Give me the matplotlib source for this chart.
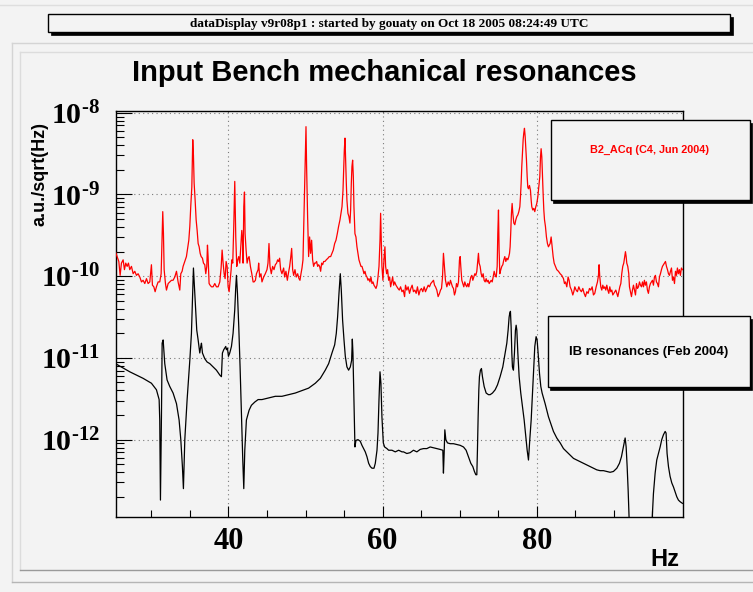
import numpy as np
import matplotlib
matplotlib.use("Agg")
import matplotlib.pyplot as plt
from matplotlib.patches import Rectangle
from matplotlib.lines import Line2D
from matplotlib.ticker import FixedLocator, LogLocator, FuncFormatter, NullFormatter

# ---------------------------------------------------------------------------
# Spectra: frequency [Hz] and log10 of the amplitude spectral density
# ---------------------------------------------------------------------------
red_hz = [
    25.34, 25.56, 25.78, 25.95, 26.12, 26.34, 26.51, 26.68, 26.86, 27.03, 27.20, 27.42, 27.64, 27.85,
    28.07, 28.28, 28.50, 28.72, 28.93, 29.15, 29.37, 29.58, 29.80, 30.01, 30.14, 30.32, 30.49, 30.66,
    30.88, 31.09, 31.27, 31.40, 31.48, 31.57, 31.66, 31.83, 31.96, 32.18, 32.39, 32.61, 32.82, 33.04,
    33.26, 33.47, 33.69, 33.82, 33.99, 34.12, 34.34, 34.55, 34.73, 34.86, 34.99, 35.12, 35.25, 35.37,
    35.46, 35.55, 35.68, 35.81, 35.94, 36.07, 36.20, 36.33, 36.46, 36.63, 36.76, 36.93, 37.06, 37.19,
    37.28, 37.36, 37.49, 37.62, 37.80, 38.01, 38.23, 38.44, 38.66, 38.88, 39.05, 39.18, 39.31, 39.44,
    39.57, 39.70, 39.83, 39.96, 40.09, 40.22, 40.35, 40.43, 40.56, 40.69, 40.82, 40.95, 41.08, 41.21,
    41.34, 41.47, 41.60, 41.73, 41.82, 41.90, 41.99, 42.08, 42.16, 42.29, 42.42, 42.55, 42.68, 42.85,
    43.03, 43.20, 43.33, 43.50, 43.63, 43.85,
    43.92, 44.05, 44.22, 44.35, 44.57, 44.78, 45.00, 45.13, 45.26, 45.39, 45.56, 45.73, 45.91, 46.08,
    46.25, 46.38, 46.51, 46.64, 46.77, 46.94, 47.16, 47.29, 47.46, 47.64, 47.77, 47.94, 48.07, 48.20,
    48.33, 48.46, 48.63, 48.80, 48.98, 49.15, 49.28, 49.41, 49.54, 49.67, 49.80, 49.97, 50.06, 50.14,
    50.27, 50.40, 50.53, 50.66, 50.79, 50.92, 51.05, 51.18, 51.31, 51.44, 51.57, 51.70, 51.83, 51.96,
    52.09, 52.22, 52.35, 52.52, 52.69, 52.91, 53.08, 53.26, 53.43, 53.60, 53.78, 53.95, 54.12, 54.29,
    54.47, 54.60, 54.73, 54.86, 54.94, 55.03, 55.12, 55.20, 55.29, 55.37, 55.50, 55.63, 55.76, 55.85,
    55.94, 56.02, 56.11, 56.20, 56.28, 56.41, 56.54, 56.67, 56.80, 56.93, 57.06, 57.19, 57.32, 57.45,
    57.58, 57.71, 57.84, 57.97, 58.10, 58.23, 58.36, 58.49, 58.62, 58.75, 58.88, 59.01, 59.14, 59.27,
    59.40, 59.53, 59.66, 59.74, 59.83, 59.91, 60.04, 60.17, 60.30, 60.39, 60.52, 60.65, 60.78, 60.91,
    61.04, 61.17, 61.30, 61.43, 61.56, 61.73, 61.86, 61.99, 62.16, 62.33, 62.51, 62.68, 62.85,
    62.97, 63.14, 63.31, 63.49, 63.66, 63.83, 64.00, 64.18, 64.35, 64.52, 64.70, 64.87, 65.04, 65.21,
    65.39, 65.56, 65.73, 65.91, 66.08, 66.25, 66.42, 66.60, 66.73, 66.86, 67.03, 67.20, 67.38, 67.51,
    67.64, 67.77, 67.89, 68.02, 68.15, 68.33, 68.50, 68.67, 68.80, 68.93, 69.06, 69.19, 69.32, 69.45,
    69.58, 69.71, 69.84, 69.97, 70.06, 70.14, 70.27, 70.40, 70.53, 70.66, 70.79, 70.92, 71.05, 71.18,
    71.31, 71.44, 71.57, 71.70, 71.83, 71.96, 72.09, 72.22, 72.35, 72.43, 72.52, 72.65, 72.78, 72.91,
    73.04, 73.17, 73.30, 73.43, 73.56, 73.69, 73.82, 73.95, 74.08, 74.21, 74.34, 74.47, 74.60, 74.73,
    74.86, 74.94, 75.03, 75.11, 75.20, 75.33, 75.46, 75.59, 75.72, 75.85, 75.98, 76.11, 76.24, 76.37,
    76.46, 76.54, 76.63, 76.71, 76.80, 76.89, 77.02, 77.15, 77.28, 77.41, 77.54, 77.67, 77.80, 77.88,
    77.97, 78.05, 78.14, 78.23, 78.31, 78.40, 78.49, 78.57, 78.66, 78.75, 78.83, 78.92, 79.05, 79.18,
    79.27, 79.35, 79.48, 79.61, 79.74, 79.87, 80.00, 80.13, 80.26, 80.39, 80.48, 80.56, 80.65, 80.74,
    80.82, 80.91, 81.00, 81.12, 81.25, 81.38, 81.51,
    81.73, 81.86, 81.99, 82.12, 82.25, 82.42, 82.59, 82.81, 83.03, 83.24, 83.46, 83.59, 83.72, 83.89,
    84.06, 84.19, 84.32, 84.50, 84.67, 84.80, 84.93, 85.10, 85.27, 85.45, 85.62, 85.79, 85.97, 86.14,
    86.31, 86.49, 86.66, 86.83, 87.00, 87.18, 87.35, 87.52, 87.70, 87.87, 88.00, 88.08, 88.17, 88.30,
    88.43, 88.56, 88.69, 88.82, 88.95, 89.08, 89.21, 89.34, 89.47, 89.60, 89.73, 89.86, 89.99, 90.12,
    90.25, 90.38, 90.51, 90.64, 90.77, 90.90, 91.02, 91.15, 91.28, 91.41, 91.50, 91.59, 91.67, 91.80,
    91.93, 92.02, 92.15, 92.28, 92.41, 92.54, 92.67, 92.80, 92.93, 93.06, 93.19, 93.32, 93.45, 93.58,
    93.71, 93.84, 93.96, 94.09, 94.22, 94.35, 94.48, 94.61, 94.74, 94.87, 95.00, 95.13, 95.26, 95.39,
    95.52, 95.65, 95.78, 95.91, 96.04, 96.17, 96.30, 96.43, 96.56, 96.69, 96.82, 96.95, 97.08, 97.21,
    97.34, 97.47, 97.60, 97.73, 97.86, 97.99, 98.12, 98.24, 98.37, 98.50, 98.63, 98.76, 98.89,
]
red_log10 = [
    -9.70, -9.76, -9.82, -9.99, -9.84, -9.80, -9.92, -9.84, -9.88, -9.84, -9.92, -9.88, -9.97, -9.94,
    -9.99, -9.97, -10.01, -10.07, -10.05, -10.09, -10.03, -10.09, -10.07, -9.86, -10.11, -10.13, -10.19, -10.13,
    -10.07, -10.07, -9.97, -9.48, -9.21, -9.48, -9.92, -10.09, -10.17, -10.09, -10.07, -10.05, -10.05, -10.01,
    -9.94, -10.07, -10.17, -9.97, -9.94, -9.88, -9.82, -9.76, -9.64, -9.56, -9.39, -9.13, -8.91, -8.33,
    -8.52, -8.86, -9.07, -9.31, -9.44, -9.60, -9.64, -9.72, -9.76, -9.78, -9.84, -9.86, -9.97, -9.88,
    -9.62, -9.76, -10.09, -10.11, -10.13, -10.13, -10.09, -10.13, -10.13, -10.07, -9.90, -9.68, -9.84, -9.97,
    -10.03, -9.82, -9.88, -10.13, -10.19, -10.05, -9.92, -9.80, -9.84, -9.39, -8.84, -9.52, -9.88, -9.80,
    -9.76, -9.84, -9.64, -9.44, -9.56, -9.84, -9.15, -8.97, -9.48, -9.68, -9.84, -9.78, -9.76, -9.88,
    -9.97, -10.07, -10.07, -10.05, -9.97, -9.92,
    -9.84, -10.01, -9.97, -10.07, -10.01, -9.97, -9.92, -9.84, -9.60, -9.88, -9.97, -9.88, -9.92, -9.86,
    -9.84, -9.80, -9.82, -9.78, -9.92, -9.97, -9.90, -10.01, -9.94, -10.05, -9.97, -9.88, -9.78, -9.66,
    -9.92, -9.99, -9.92, -10.01, -9.97, -10.03, -10.05, -9.97, -9.90, -9.80, -9.27, -8.62, -8.17, -8.66,
    -9.27, -9.76, -9.52, -9.72, -9.56, -9.80, -9.88, -9.84, -9.84, -9.82, -9.88, -9.86, -9.88, -9.94,
    -9.84, -9.86, -9.82, -9.82, -9.80, -9.78, -9.76, -9.76, -9.72, -9.68, -9.60, -9.56, -9.48, -9.39,
    -9.31, -9.23, -9.15, -8.95, -8.70, -8.46, -8.31, -8.58, -8.86, -9.07, -9.23, -9.27, -9.35, -9.19,
    -8.86, -8.66, -8.58, -8.78, -9.15, -9.48, -9.52, -9.64, -9.72, -9.80, -9.84, -9.88, -9.88, -9.92,
    -9.97, -9.94, -9.99, -10.01, -10.05, -10.03, -10.07, -10.01, -10.09, -10.07, -10.11, -10.13, -10.15, -10.11,
    -10.01, -9.88, -9.56, -9.23, -9.56, -9.88, -10.05, -9.80, -9.64, -9.88, -9.97, -9.92, -10.05, -10.01,
    -10.13, -10.07, -10.01, -10.11, -10.07, -10.11, -10.13, -10.15, -10.17, -10.13, -10.19, -10.17, -10.25,
    -10.11, -10.17, -10.13, -10.21, -10.15, -10.11, -10.19, -10.17, -10.21, -10.13, -10.23, -10.17, -10.15, -10.19,
    -10.13, -10.19, -10.15, -10.11, -10.13, -10.09, -10.07, -10.05, -10.11, -10.13, -10.17, -10.25, -10.21, -10.17,
    -10.15, -10.01, -9.72, -9.88, -10.05, -10.13, -10.07, -10.11, -10.05, -10.09, -10.13, -10.15, -10.23, -10.19,
    -10.09, -10.13, -10.07, -9.80, -9.76, -9.88, -10.05, -10.09, -10.13, -10.07, -10.11, -10.13, -10.09, -10.13,
    -10.07, -10.01, -9.99, -10.05, -10.01, -9.97, -9.99, -9.94, -9.80, -9.72, -9.84, -9.88, -9.97, -10.01,
    -9.97, -10.05, -10.07, -10.03, -10.07, -10.05, -10.09, -10.07, -10.05, -10.07, -10.01, -9.94, -9.99, -10.01,
    -9.88, -9.48, -9.19, -9.68, -9.97, -9.92, -9.88, -9.86, -9.80, -9.76, -9.82, -9.78, -9.80, -9.76,
    -9.72, -9.64, -9.44, -9.23, -9.11, -9.23, -9.35, -9.37, -9.31, -9.27, -9.25, -9.21, -9.15, -9.03,
    -8.86, -8.66, -8.50, -8.33, -8.25, -8.19, -8.29, -8.42, -8.58, -8.78, -8.91, -8.93, -8.89, -8.95,
    -9.07, -9.15, -9.19, -9.17, -9.21, -9.15, -9.11, -9.03, -8.91, -8.78, -8.54, -8.44, -8.54, -8.78,
    -8.99, -9.19, -9.31, -9.39, -9.52, -9.60, -9.64,
    -9.60, -9.52, -9.64, -9.76, -9.84, -9.88, -9.92, -9.94, -9.97, -9.99, -10.03, -10.09, -10.07, -10.13,
    -10.01, -10.05, -10.13, -10.17, -10.23, -10.19, -10.13, -10.17, -10.19, -10.13, -10.17, -10.19, -10.15, -10.21,
    -10.25, -10.19, -10.21, -10.15, -10.17, -10.13, -10.23, -10.21, -10.13, -10.07, -9.99, -9.86, -10.01, -10.13,
    -10.17, -10.11, -10.15, -10.13, -10.17, -10.11, -10.17, -10.21, -10.13, -10.19, -10.17, -10.23, -10.21, -10.19,
    -10.17, -10.21, -10.25, -10.19, -10.13, -10.09, -9.97, -9.88, -9.84, -9.76, -9.70, -9.76, -9.84, -9.88,
    -9.97, -10.13, -10.19, -10.25, -10.17, -10.11, -10.17, -10.23, -10.09, -10.15, -10.13, -10.07, -10.11, -10.13,
    -10.07, -10.13, -10.05, -10.11, -10.07, -10.17, -10.21, -10.13, -10.09, -10.07, -10.05, -10.11, -10.01, -9.99,
    -10.07, -10.09, -10.13, -10.01, -9.97, -9.92, -9.88, -9.86, -9.84, -9.82, -9.88, -9.92, -9.97, -9.99,
    -9.94, -9.90, -10.05, -10.01, -10.09, -9.94, -9.99, -9.90, -9.97, -9.92, -9.99, -9.90, -9.92,
]

black_hz = [
    25.34, 27.20, 28.93, 30.01, 30.66, 31.01, 31.09, 31.18, 31.31, 31.40, 31.53, 31.74, 32.04, 32.39,
    32.82, 33.26, 33.60, 33.82, 34.03, 34.16, 34.34, 34.64, 34.99, 35.20, 35.33, 35.46, 35.59, 35.72,
    35.89, 36.07, 36.28, 36.41, 36.50, 36.63, 36.93, 37.23, 37.58, 38.01, 38.44, 38.88, 39.09, 39.22,
    39.39, 39.52, 39.65, 39.74, 39.87, 40.00, 40.17, 40.39, 40.60, 40.82, 40.95, 41.04, 41.17, 41.34,
    41.51, 41.69, 41.86, 41.99, 42.12, 42.33, 42.68, 42.98, 43.42, 43.85, 44.35, 45.21, 46.08, 46.94,
    47.81, 48.67, 49.54, 50.40, 51.27, 51.92, 52.56, 53.00, 53.43, 53.78, 53.99, 54.16, 54.34, 54.51,
    54.64, 54.81, 54.99, 55.16, 55.37, 55.59, 55.81, 55.98, 56.07, 56.15, 56.28, 56.41, 56.54, 56.80,
    57.10, 57.32, 57.54, 57.75, 57.97, 58.19, 58.40, 58.62, 58.88, 59.05, 59.27, 59.40, 59.53, 59.66,
    59.78, 59.91, 60.09, 60.26, 60.56, 60.78, 61.21, 61.64, 62.08, 62.51, 62.71, 63.14, 63.57, 64.00,
    64.44, 64.87, 65.30, 65.73, 66.17, 66.60, 67.03, 67.46, 67.81, 67.89, 67.98, 68.07, 68.20, 68.41,
    68.76, 69.19, 69.62, 70.06, 70.49, 70.83, 71.14, 71.44, 71.70, 71.91, 72.09, 72.22, 72.30, 72.39,
    72.48, 72.56, 72.69, 72.82, 72.95, 73.17, 73.43, 73.73, 73.95, 74.25, 74.60, 74.90, 75.24, 75.59,
    75.89, 76.11, 76.28, 76.41, 76.50, 76.58, 76.67, 76.76, 76.84, 76.97, 77.10, 77.23, 77.32, 77.41,
    77.54, 77.71, 77.92, 78.14, 78.36, 78.57, 78.75, 78.92, 79.09, 79.27, 79.44, 79.61, 79.74, 79.91,
    80.04, 80.17, 80.35, 80.52, 80.69, 81.08, 81.30, 81.51, 81.73, 81.95, 82.16, 82.59, 83.03, 83.46,
    83.89, 84.32, 84.76, 85.19, 85.62, 86.05, 86.49, 86.92, 87.35, 87.78, 88.21, 88.65, 89.08, 89.51,
    89.94, 90.38, 90.72, 90.98, 91.15, 91.33, 91.46, 91.59, 91.72, 91.85, 91.98, 92.30, 94.60, 94.96,
    95.13, 95.35, 95.56, 95.78, 96.00, 96.21, 96.43, 96.65, 96.77, 96.90, 97.08, 97.29, 97.51, 97.73,
    97.94, 98.16, 98.37, 98.59, 98.89,
]
black_log10 = [
    -11.07, -11.17, -11.25, -11.31, -11.39, -11.51, -11.76, -12.74, -11.72, -10.82, -10.78, -11.07, -11.27, -11.35,
    -11.43, -11.56, -11.76, -12.00, -12.33, -12.60, -12.00, -11.51, -11.03, -10.70, -10.29, -9.90, -10.13, -10.37,
    -10.66, -10.78, -10.94, -10.86, -10.82, -10.94, -11.01, -11.05, -11.07, -11.11, -11.15, -11.21, -11.23, -10.94,
    -10.90, -10.88, -10.86, -10.90, -10.88, -10.98, -10.94, -10.86, -10.70, -10.41, -10.13, -9.99, -10.21, -10.62,
    -11.11, -11.72, -12.25, -12.60, -12.13, -11.76, -11.64, -11.58, -11.54, -11.51, -11.51, -11.49, -11.47, -11.47,
    -11.45, -11.43, -11.40, -11.37, -11.31, -11.25, -11.15, -11.07, -10.94, -10.84, -10.70, -10.50, -10.21, -9.97,
    -10.17, -10.54, -10.78, -10.98, -11.11, -11.15, -11.11, -11.03, -10.77, -10.94, -11.51, -12.09, -12.01, -12.00,
    -12.02, -12.07, -12.11, -12.15, -12.21, -12.29, -12.33, -12.35, -12.35, -12.29, -12.13, -11.92, -11.51, -11.17,
    -11.31, -11.72, -12.04, -12.09, -12.11, -12.13, -12.13, -12.15, -12.13, -12.15, -12.15, -12.17, -12.16, -12.13,
    -12.15, -12.12, -12.11, -12.11, -12.09, -12.10, -12.11, -12.12, -12.13, -12.41, -12.17, -11.88, -12.00, -12.04,
    -12.05, -12.05, -12.06, -12.07, -12.09, -12.13, -12.21, -12.29, -12.33, -12.39, -12.43, -12.43, -12.13, -11.72,
    -11.39, -11.23, -11.15, -11.13, -11.23, -11.35, -11.43, -11.45, -11.45, -11.43, -11.39, -11.33, -11.23, -11.11,
    -10.94, -10.82, -10.66, -10.50, -10.45, -10.43, -10.62, -10.94, -11.11, -11.15, -10.94, -10.66, -10.60, -10.66,
    -10.94, -11.23, -11.43, -11.60, -11.76, -11.96, -12.13, -12.25, -12.00, -11.76, -11.43, -11.11, -10.86, -10.74,
    -10.78, -10.94, -11.19, -11.35, -11.43, -11.56, -11.64, -11.72, -11.78, -11.84, -11.90, -11.98, -12.04, -12.11,
    -12.15, -12.19, -12.23, -12.25, -12.27, -12.29, -12.31, -12.33, -12.35, -12.37, -12.38, -12.38, -12.39, -12.40,
    -12.39, -12.35, -12.29, -12.21, -12.13, -12.04, -11.98, -12.09, -12.33, -12.62, -12.98, -13.60, -13.60, -12.98,
    -12.66, -12.41, -12.25, -12.17, -12.09, -12.00, -11.94, -11.90, -11.92, -12.17, -12.33, -12.45, -12.53, -12.58,
    -12.64, -12.70, -12.74, -12.76, -12.78,
]

x_major = [40, 60, 80]
x_minor = [30, 35, 45, 50, 55, 65, 70, 75, 85, 90, 95]
y_decades = [-12, -11, -10, -9, -8]
x_range = (25.35, 98.9)
y_range = (1.12e-13, 1.06e-8)

title_text = "Input Bench mechanical resonances"
banner_text = "dataDisplay v9r08p1 : started by gouaty on Oct 18 2005 08:24:49 UTC"
y_title = "a.u./sqrt(Hz)"
x_title = "Hz"
red_name = "B2_ACq (C4, Jun 2004)"
black_name = "IB resonances (Feb 2004)"

# ---------------------------------------------------------------------------
W, H = 753, 592
BG = "#f3f3f3"

plt.rcParams["mathtext.fontset"] = "custom"
plt.rcParams["mathtext.rm"] = "Liberation Serif:bold"
plt.rcParams["mathtext.bf"] = "Liberation Serif:bold"
plt.rcParams["mathtext.it"] = "Liberation Serif:bold"

fig = plt.figure(figsize=(W / 100, H / 100), dpi=100, facecolor=BG)

# frame of the pad in pixel units
left, right, top, bottom = 115.5, 682.5, 110.7, 517.3
ax = fig.add_axes([left / W, 1 - bottom / H, (right - left) / W, (bottom - top) / H])
ax.set_facecolor(BG)
ax.set_yscale("log")
ax.set_axisbelow(True)

ax.plot(red_hz, 10.0 ** np.asarray(red_log10), color="#ff0000", lw=0.9, zorder=3)
ax.plot(black_hz, 10.0 ** np.asarray(black_log10), color="black", lw=0.9, zorder=4)

ax.set_xlim(*x_range)
ax.set_ylim(*y_range)

ax.xaxis.set_major_locator(FixedLocator(x_major))
ax.xaxis.set_minor_locator(FixedLocator(x_minor))
ax.xaxis.set_major_formatter(FuncFormatter(lambda v, p: "%d" % v))
ax.yaxis.set_major_locator(FixedLocator([10.0 ** d for d in y_decades]))
ax.yaxis.set_minor_locator(LogLocator(base=10, subs=np.arange(2, 10), numticks=20))
ax.yaxis.set_minor_formatter(NullFormatter())
ax.yaxis.set_major_formatter(
    FuncFormatter(lambda v, p: r"$10^{\text{-}%d}$" % abs(round(np.log10(v)))))

ax.tick_params(axis="x", which="major", direction="in", length=8, width=0.8,
               labelsize=22, pad=7, top=False)
ax.tick_params(axis="x", which="minor", direction="in", length=5, width=0.8, top=False)
ax.tick_params(axis="y", which="major", direction="in", length=11.5, width=0.8,
               labelsize=21.5, pad=11, right=False)
ax.tick_params(axis="y", which="minor", direction="in", length=5.8, width=0.8, right=False)
for lab in ax.get_xticklabels():
    lab.set_fontfamily("Liberation Serif")
    lab.set_fontweight("bold")

ax.grid(True, which="major", linestyle=(0, (1, 3)), color="#7a7a7a", lw=0.8)
for s in ax.spines.values():
    s.set_linewidth(1.0)
    s.set_color("black")

# overlay in pixel coordinates for the canvas decorations
ov = fig.add_axes([0, 0, 1, 1], zorder=10)
ov.set_xlim(0, W)
ov.set_ylim(H, 0)
ov.axis("off")
ov.patch.set_alpha(0)

# canvas / pad borders
ov.add_line(Line2D([0, W], [5, 5], color="#dedede", lw=1))
ov.add_line(Line2D([12, W], [43, 43], color="#d4d4d4", lw=1))
ov.add_line(Line2D([12, 12], [43, 582], color="#d4d4d4", lw=1))
ov.add_line(Line2D([12, W], [582, 582], color="#b5b5b5", lw=1))
ov.add_line(Line2D([20, W], [52, 52], color="#dcdcdc", lw=1))
ov.add_line(Line2D([20, 20], [52, 570], color="#dcdcdc", lw=1))
ov.add_line(Line2D([20, W], [570, 570], color="#9a9a9a", lw=1))


def shadow_box(x0, y0, x1, y1, off=3):
    ov.add_patch(Rectangle((x0 + off, y0 + off), x1 - x0, y1 - y0,
                           facecolor="black", edgecolor="black", lw=0.5))
    ov.add_patch(Rectangle((x0, y0), x1 - x0, y1 - y0,
                           facecolor=BG, edgecolor="black", lw=1.0))


# banner
shadow_box(48, 14, 730, 32)
ov.text(389, 23.5, banner_text, ha="center", va="center",
        fontfamily="Liberation Serif", fontweight="bold", fontsize=9.5)

# title
ov.text(384, 73, title_text, ha="center", va="center",
        fontfamily="Liberation Sans", fontweight="bold", fontsize=21)

# legend boxes
shadow_box(551, 120, 750, 200, off=2.5)
ov.text(650, 150, red_name, ha="center", va="center", color="#ff0000",
        fontfamily="Liberation Sans", fontweight="bold", fontsize=7.8)
shadow_box(548, 316, 750, 387, off=2.5)
ov.text(649, 352, black_name, ha="center", va="center", color="black",
        fontfamily="Liberation Sans", fontweight="bold", fontsize=9.5)

# axis titles
ov.text(40, 174, y_title, rotation=90, ha="center", va="center",
        fontfamily="Liberation Sans", fontweight="bold", fontsize=13)
ov.text(665, 559, x_title, ha="center", va="center",
        fontfamily="Liberation Sans", fontweight="bold", fontsize=17)

fig.savefig("out.png", dpi=100, facecolor=BG)
